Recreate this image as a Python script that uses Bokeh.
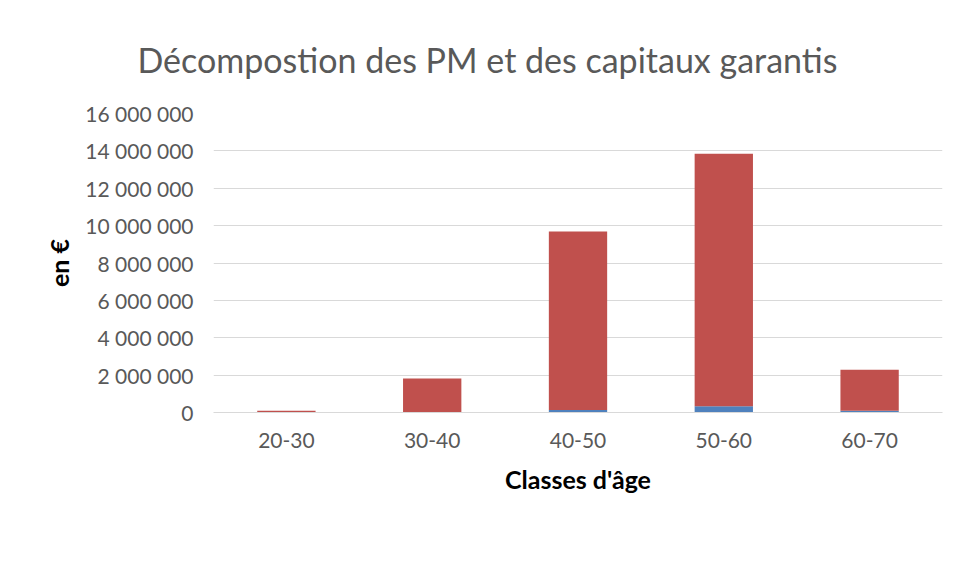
from bokeh.plotting import figure
from bokeh.models import Range1d, CustomJSTickFormatter, Legend, LegendItem, FixedTicker, Title
from bokeh.embed import file_html
from bokeh.resources import INLINE

categories = ["20-30", "30-40", "40-50", "50-60", "60-70"]
pm = [0, 0, 130000, 330000, 90000]
capitaux = [100000, 1820000, 9560000, 13520000, 2200000]
y_ticks = [0, 2000000, 4000000, 6000000, 8000000, 10000000, 12000000, 14000000, 16000000]

FONT = "Lato"
GRAY = "#595959"

p = figure(x_range=categories, y_range=Range1d(0, 16000000), frame_width=729, frame_height=299,
           output_backend="svg", toolbar_location=None,
           min_border_left=213, min_border_right=13, min_border_top=113, min_border_bottom=160)

source = dict(cat=categories, PM=pm, Capitaux=capitaux)
r = p.vbar_stack(["PM", "Capitaux"], x="cat", width=0.4, color=["#4f81bd", "#c0504d"],
                 line_color=None, source=source)

t = Title(text="Décompostion des PM et des capitaux garantis", align="left",
          text_font=FONT, text_font_size="34px", text_font_style="normal",
          text_color=GRAY, offset=-76, standoff=67)
p.add_layout(t, "above")

p.outline_line_color = None
p.xgrid.grid_line_color = None
p.ygrid.grid_line_color = "#d9d9d9"
p.ygrid.ticker = FixedTicker(ticks=y_ticks)

p.yaxis.ticker = FixedTicker(ticks=y_ticks)
p.yaxis.formatter = CustomJSTickFormatter(code="return Math.round(tick).toString().replace(/\\B(?=(\\d{3})+(?!\\d))/g, ' ');")
p.yaxis.axis_line_color = None
p.yaxis.major_tick_line_color = None
p.yaxis.minor_tick_line_color = None
p.yaxis.major_label_text_font = FONT
p.yaxis.major_label_text_font_size = "21px"
p.yaxis.major_label_text_color = GRAY
p.yaxis.major_label_standoff = 14
p.yaxis.axis_label = "en €"
p.yaxis.axis_label_text_font = FONT
p.yaxis.axis_label_text_font_size = "25px"
p.yaxis.axis_label_text_font_style = "bold"
p.yaxis.axis_label_text_color = "black"
p.yaxis.axis_label_standoff = 8

p.xaxis.axis_line_color = "#d9d9d9"
p.xaxis.major_tick_line_color = None
p.xaxis.minor_tick_line_color = None
p.xaxis.major_label_text_font = FONT
p.xaxis.major_label_text_font_size = "21px"
p.xaxis.major_label_text_color = GRAY
p.xaxis.major_label_standoff = 14
p.xaxis.axis_label = "Classes d'âge"
p.xaxis.axis_label_text_font = FONT
p.xaxis.axis_label_text_font_size = "25px"
p.xaxis.axis_label_text_font_style = "bold"
p.xaxis.axis_label_text_color = "black"
p.xaxis.axis_label_standoff = 13

legend = Legend(items=[LegendItem(label="PM", renderers=[r[0]]),
                       LegendItem(label="Capitaux garanti", renderers=[r[1]])],
                orientation="horizontal", location="center",
                label_text_font=FONT, label_text_font_size="21px", label_text_color=GRAY,
                glyph_width=9, glyph_height=9, label_standoff=5, spacing=22,
                padding=0, margin=28, border_line_color=None, background_fill_alpha=0)
p.add_layout(legend, "below")

open("out.html", "w").write(file_html(p, INLINE))
